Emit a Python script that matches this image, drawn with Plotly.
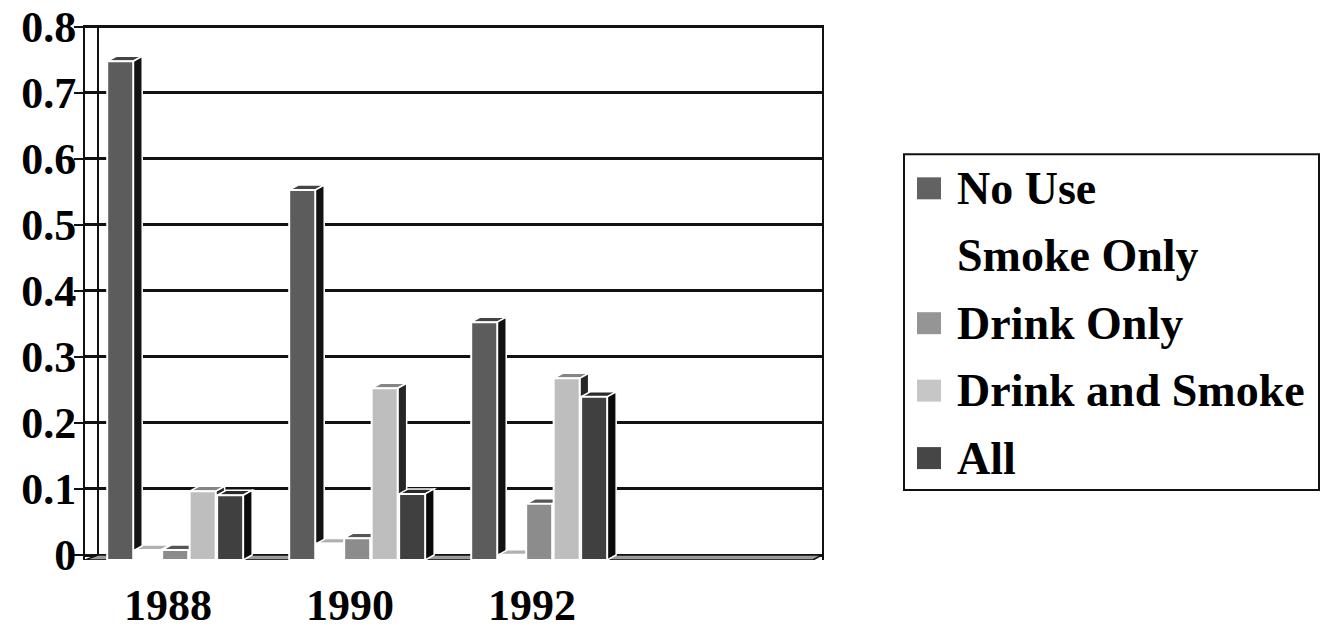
import plotly.graph_objects as go

# ---- data -------------------------------------------------------------
years = ["1988", "1990", "1992"]
series_names = ["No Use", "Smoke Only", "Drink Only", "Drink and Smoke", "All"]
no_use = [0.755, 0.56, 0.36]
smoke_only = [0.015, 0.025, 0.008]
drink_only = [0.015, 0.033, 0.085]
drink_and_smoke = [0.104, 0.26, 0.275]
all_three = [0.098, 0.10, 0.247]
y_ticks = [0, 0.1, 0.2, 0.3, 0.4, 0.5, 0.6, 0.7, 0.8]

series_values = [no_use, smoke_only, drink_only, drink_and_smoke, all_three]

# ---- styling ----------------------------------------------------------
front_colors = ["#5c5c5c", "#ffffff", "#8c8c8c", "#bebebe", "#404040"]
top_colors = ["#444444", "#b0b0b0", "#555555", "#858585", "#2a2a2a"]
side_colors = ["#121212", "#9a9a9a", "#1c1c1c", "#262626", "#0a0a0a"]
legend_colors = ["#626262", "#ffffff", "#959595", "#c6c6c6", "#464646"]

FONT = "Times New Roman, Liberation Serif, serif"
W, H = 1321, 630
PX_PER_UNIT = 661.2
Y_TOP = 0.8 + 1.5 / PX_PER_UNIT        # a hair above 0.8 so the top tick is kept
L, R = 85, 822                         # plot area in pixels
B = 560
T = B - (Y_TOP + 5 / PX_PER_UNIT) * PX_PER_UNIT
CAT_PX = 182                           # pixels per category
X_RANGE = [-0.5, -0.5 + (R - L) / CAT_PX]
DEPTH_Y = 5 / PX_PER_UNIT              # vertical depth of a column (data units)
DEPTH_X = 9 / CAT_PX                   # horizontal depth of a column (data units)
Y_RANGE = [-DEPTH_Y, Y_TOP]

OFFSET0, PITCH, BAR_W = -0.378, 0.151, 0.143


def paper_x(px):
    return (px - L) / (R - L)


def paper_y(py):
    return (B - py) / (B - T)


fig = go.Figure()
shapes = []

# floor of the 3D box (sits under the columns)
wall_dx = 13 / CAT_PX
shapes.append(dict(
    type="path", layer="between", xref="x", yref="y",
    path=(f"M {X_RANGE[0]},{-DEPTH_Y} L {X_RANGE[1] - wall_dx * 0.7},{-DEPTH_Y} "
          f"L {X_RANGE[1]},0 L {X_RANGE[0] + wall_dx},0 Z"),
    fillcolor="#9c9c9c", line=dict(color="#111111", width=1.5),
))
# back-wall left edge
shapes.append(dict(
    type="line", layer="between", xref="x", yref="y",
    x0=X_RANGE[0] + wall_dx, x1=X_RANGE[0] + wall_dx, y0=0, y1=0.8,
    line=dict(color="#111111", width=2),
))

# columns: front faces as bars, top and side faces as depth shapes
for i, (name, vals) in enumerate(zip(series_names, series_values)):
    off = OFFSET0 + i * PITCH
    fig.add_trace(go.Bar(
        x=list(range(len(years))), y=vals, base=-DEPTH_Y,
        offset=off, width=BAR_W, name=name, showlegend=False,
        marker=dict(color=front_colors[i], line=dict(color="white", width=2)),
    ))

for c in range(len(years)):
    for i, vals in enumerate(series_values):
        v = vals[c]
        xl = c + OFFSET0 + i * PITCH
        xr = xl + BAR_W
        top = v - DEPTH_Y
        # top face
        shapes.append(dict(
            type="path", layer="between", xref="x", yref="y",
            path=(f"M {xl},{top} L {xr},{top} L {xr + DEPTH_X},{v} "
                  f"L {xl + DEPTH_X},{v} Z"),
            fillcolor=top_colors[i], line=dict(color="white", width=1.5),
        ))
        # right side face
        shapes.append(dict(
            type="path", layer="between", xref="x", yref="y",
            path=(f"M {xr},{-DEPTH_Y} L {xr},{top} L {xr + DEPTH_X},{v} "
                  f"L {xr + DEPTH_X},0 Z"),
            fillcolor=side_colors[i], line=dict(color="white", width=1.5),
        ))

# legend box
leg_left, leg_right, leg_top, leg_bottom = 904, 1319, 154, 490
shapes.append(dict(
    type="rect", xref="paper", yref="paper",
    x0=paper_x(leg_left), x1=paper_x(leg_right),
    y0=paper_y(leg_bottom), y1=paper_y(leg_top),
    line=dict(color="#111111", width=2), fillcolor="white", layer="above",
))
annotations = []
row0, row_step = 188, 67.5
for i, name in enumerate(series_names):
    cy = row0 + i * row_step
    shapes.append(dict(
        type="rect", xref="paper", yref="paper",
        x0=paper_x(917), x1=paper_x(941),
        y0=paper_y(cy + 11), y1=paper_y(cy - 11),
        fillcolor=legend_colors[i], line=dict(width=0), layer="above",
    ))
    annotations.append(dict(
        xref="paper", yref="paper", x=paper_x(955), y=paper_y(cy),
        xanchor="left", yanchor="middle", showarrow=False, text=name,
        font=dict(family=FONT, size=46, color="black", weight="bold"),
    ))

fig.update_layout(
    width=W, height=H,
    margin=dict(l=L, r=W - R, t=T, b=H - B, pad=0, autoexpand=False),
    paper_bgcolor="white", plot_bgcolor="white",
    barmode="overlay",
    shapes=shapes, annotations=annotations,
    showlegend=False,
    xaxis=dict(
        range=X_RANGE, tickvals=list(range(len(years))), ticktext=years,
        showgrid=False, zeroline=False, showline=False, ticks="",
        automargin=False, ticklabelstandoff=15, ticklabelshift=-8,
        tickfont=dict(family=FONT, size=44, color="black", weight="bold"),
    ),
    yaxis=dict(
        range=Y_RANGE, tickvals=y_ticks, ticktext=[f"{t:g}" for t in y_ticks],
        showgrid=True, gridcolor="#111111", gridwidth=2.5,
        zeroline=False, showline=True, linecolor="#111111", linewidth=2,
        mirror=True, ticks="outside", ticklen=9, tickwidth=2, tickcolor="#111111",
        automargin=False, ticklabelstandoff=-11, ticklabeloverflow="allow",
        tickfont=dict(family=FONT, size=44, color="black", weight="bold"),
    ),
)

fig.write_html("out.html")
